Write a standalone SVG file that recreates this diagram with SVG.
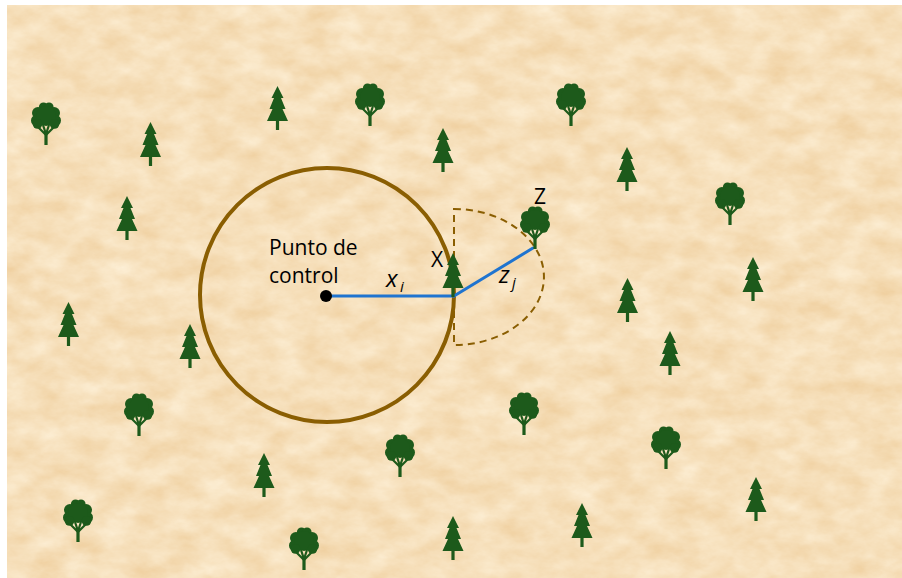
<svg xmlns="http://www.w3.org/2000/svg" xmlns:xlink="http://www.w3.org/1999/xlink" width="902" height="578" viewBox="0 0 902 578">
  <defs>
    <style>
      .lbl { font-family: "Open Sans", "Liberation Sans", sans-serif; font-size: 21px; fill: #000; }
      .var { font-family: "Open Sans", "Liberation Sans", sans-serif; font-style: italic; fill: #000; }
      .tree { fill: #1d5a1b; }
      .ring { fill: none; stroke: #8a5e02; stroke-width: 4; }
      .reach { fill: none; stroke: #8a5e02; stroke-width: 2; stroke-dasharray: 7 5; }
      .dist { fill: none; stroke: #1f74d0; stroke-width: 3; stroke-linecap: round; }
    </style>
    <!-- parchment grain -->
    <filter id="grain" x="0" y="0" width="100%" height="100%" color-interpolation-filters="sRGB">
      <feTurbulence type="fractalNoise" baseFrequency="0.03 0.05" numOctaves="5" seed="7" result="n"/>
      <feColorMatrix in="n" type="matrix"
        values="0.06 0 0 0 0.935
                0.14 0 0 0 0.805
                0.24 0 0 0 0.61
                0 0 0 0 1"/>
    </filter>
    <!-- conifer, origin at tip -->
    <path id="conifer" class="tree"
      d="M0,0 L6,12 L3.5,12 L8,23 L5,23 L10.5,35 L1.6,35 L1.6,44 L-1.6,44 L-1.6,35 L-10.5,35 L-5,23 L-8,23 L-3.5,12 L-6,12 Z"/>
    <!-- broadleaf tree, origin at crown top -->
    <g id="broadleaf" class="tree">
      <circle cx="-2.5" cy="5" r="4.6"/>
      <circle cx="3" cy="5" r="4.6"/>
      <circle cx="-8" cy="11" r="6"/>
      <circle cx="8" cy="11" r="6"/>
      <circle cx="-9.5" cy="18.5" r="5.5"/>
      <circle cx="9.5" cy="18.5" r="5.5"/>
      <circle cx="0" cy="14" r="10"/>
      <circle cx="-8.5" cy="22" r="4.8"/>
      <circle cx="8.5" cy="22" r="4.8"/>
      <rect x="-1.6" y="30" width="3.2" height="13"/>
      <path d="M0,33 L-9,24 M0,32 L-3,23 M0,32 L3,23 M0,33 L9,24" stroke="#1d5a1b" stroke-width="2.2" fill="none"/>
    </g>
  </defs>

  <!-- ground -->
  <rect width="902" height="578" fill="#ffffff"/>
  <rect x="7" y="5" width="895" height="573" fill="#f3dcb2"/>
  <rect x="7" y="5" width="895" height="573" filter="url(#grain)"/>

  <!-- sampling ring around the control point -->
  <circle id="ring" class="ring" cx="327" cy="295" r="127"/>
  <!-- neighbour search half-ellipse -->
  <path id="search" class="reach" d="M454,209 A90,68 0 0 1 454,345 Z"/>

  <!-- conifers -->
  <g id="conifers">
    <use href="#conifer" x="277.5" y="86"/>
    <use href="#conifer" x="150.5" y="122"/>
    <use href="#conifer" x="443" y="128"/>
    <use href="#conifer" x="627" y="147"/>
    <use href="#conifer" x="127" y="196"/>
    <use href="#conifer" x="68.5" y="302"/>
    <use href="#conifer" x="190" y="324"/>
    <use href="#conifer" x="627.5" y="278"/>
    <use href="#conifer" x="753" y="257"/>
    <use href="#conifer" x="670" y="331"/>
    <use href="#conifer" x="264" y="453"/>
    <use href="#conifer" x="453" y="516"/>
    <use href="#conifer" x="582" y="503"/>
    <use href="#conifer" x="756" y="477"/>
  </g>

  <!-- broadleaf trees -->
  <g id="broadleaves">
    <use href="#broadleaf" x="46" y="102"/>
    <use href="#broadleaf" x="370" y="83"/>
    <use href="#broadleaf" x="571" y="83"/>
    <use href="#broadleaf" x="730" y="182"/>
    <use href="#broadleaf" x="139" y="393"/>
    <use href="#broadleaf" x="524" y="392"/>
    <use href="#broadleaf" x="400" y="434"/>
    <use href="#broadleaf" x="666" y="426"/>
    <use href="#broadleaf" x="78" y="499"/>
    <use href="#broadleaf" x="304" y="527"/>
  </g>

  <!-- distance segments -->
  <g id="connectors">
    <line class="dist" x1="326" y1="296" x2="454" y2="296"/>
    <line class="dist" x1="454" y1="296" x2="533" y2="248"/>
  </g>

  <!-- tree X (nearest to the control point) -->
  <g id="tree-x">
    <use href="#conifer" x="453" y="253"/>
    <text class="lbl" x="431" y="267">X</text>
  </g>

  <!-- tree Z (nearest neighbour of X) -->
  <g id="tree-z">
    <use href="#broadleaf" x="535" y="206"/>
    <text class="lbl" x="534" y="204">Z</text>
  </g>

  <!-- control point -->
  <g id="control-point">
    <circle cx="326" cy="296" r="6" fill="#000"/>
    <text class="lbl" x="269" y="255">Punto de</text>
    <text class="lbl" x="269" y="283">control</text>
  </g>

  <!-- distance labels -->
  <g id="labels">
    <text class="var" x="386" y="287" font-size="24">x</text>
    <text class="var" x="400" y="292" font-size="15">i</text>
    <text class="var" x="499" y="283" font-size="24">z</text>
    <text class="var" x="512" y="288" font-size="15">j</text>
  </g>
</svg>
